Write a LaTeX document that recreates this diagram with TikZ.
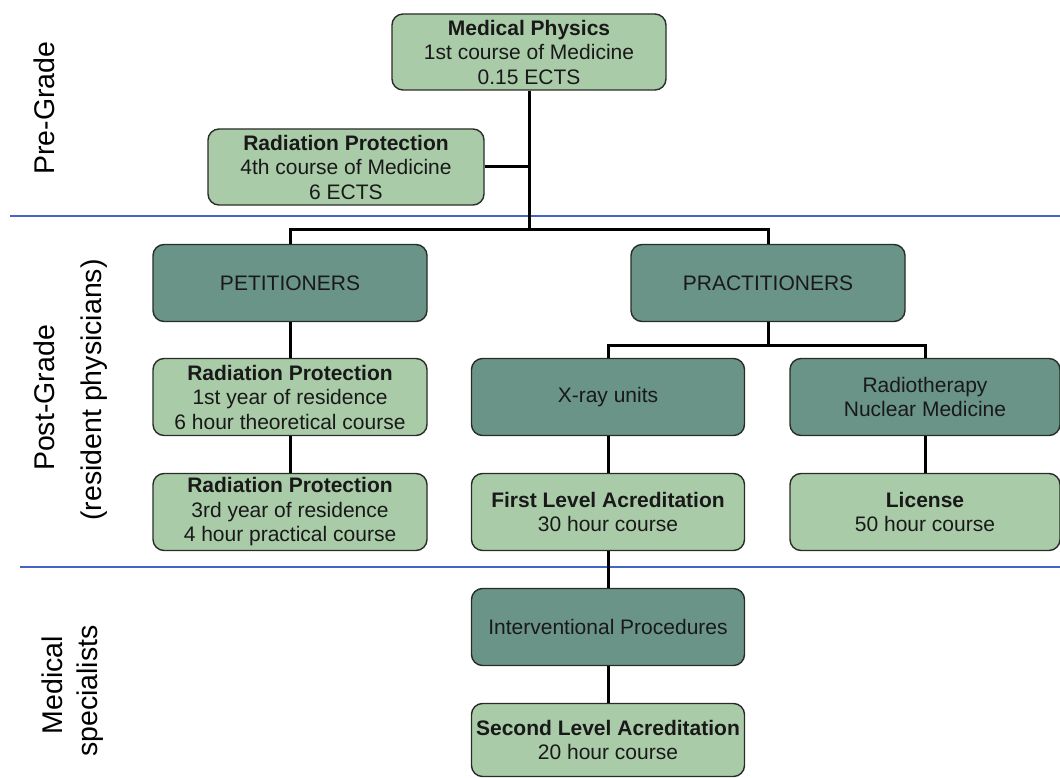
\documentclass[tikz,border=0pt]{standalone}
\usepackage{fontspec}
\setmainfont{Liberation Sans}
\definecolor{lightg}{RGB}{169,203,168}
\definecolor{darkg}{RGB}{106,148,136}
\definecolor{sepblue}{RGB}{70,100,200}
\definecolor{boxline}{RGB}{40,45,40}
\begin{document}
\begin{tikzpicture}[x=1pt,y=-1pt,
  base/.style={draw=boxline,line width=1.4pt,rounded corners=11pt,align=center,
    font=\fontsize{21}{24.5}\selectfont,inner sep=0pt,text=black!90},
  light/.style={base,fill=lightg},
  dark/.style={base,fill=darkg},
  conn/.style={line width=3pt,black},
  sep/.style={line width=1.3pt,sepblue},
  side/.style={rotate=90,font=\fontsize{28.5}{32}\selectfont,align=center,inner sep=0pt}]
\useasboundingbox (0,0) rectangle (1060,778);
% separators
\draw[sep] (10,216) -- (1060,216);
\draw[sep] (20,567) -- (1060,567);
% side labels
\node[side] (lpre) at (44,108) {Pre-Grade};
\node[side] (lpost) at (44,398) {Post-Grade};
\node[side] (lres) at (94,390) {(resident physicians)};
\node[side] (lmed) at (52,685) {Medical};
\node[side] (lspec) at (90,691) {specialists};
% boxes
\node[light,minimum width=274pt,minimum height=76pt] (mp) at (529,52) {\textbf{Medical Physics}\\1st course of Medicine\\0.15 ECTS};
\node[light,minimum width=276pt,minimum height=76pt] (rp0) at (346,167) {\textbf{Radiation Protection}\\4th course of Medicine\\6 ECTS};
\node[dark,minimum width=274pt,minimum height=77pt] (pet) at (290,283) {PETITIONERS};
\node[dark,minimum width=274pt,minimum height=77pt] (pra) at (768,283) {PRACTITIONERS};
\node[light,minimum width=274pt,minimum height=77pt] (rp1) at (290,397) {\textbf{Radiation Protection}\\1st year of residence\\6 hour theoretical course};
\node[light,minimum width=274pt,minimum height=77pt] (rp3) at (290,512) {\textbf{Radiation Protection}\\3rd year of residence\\4 hour practical course};
\node[dark,minimum width=273pt,minimum height=77pt] (xr) at (608,397) {X-ray units};
\node[dark,minimum width=270pt,minimum height=77pt] (rt) at (925,397) {Radiotherapy\\Nuclear Medicine};
\node[light,minimum width=273pt,minimum height=77pt] (fl) at (608,512) {\textbf{First Level Acreditation}\\30 hour course};
\node[light,minimum width=270pt,minimum height=77pt] (lic) at (925,512) {\textbf{License}\\50 hour course};
\node[dark,minimum width=273pt,minimum height=77pt] (ip) at (608,627) {Interventional Procedures};
\node[light,minimum width=273pt,minimum height=73pt] (sl) at (608,740) {\textbf{Second Level Acreditation}\\20 hour course};
% connectors
\coordinate (j1) at (529,230);
\coordinate (j2) at (768,345);
\draw[conn] (mp.south) -- (j1);
\draw[conn] (rp0.east) -- (rp0.east -| mp.south);
\draw[conn] (pet.north) |- (j1) -| (pra.north);
\draw[conn] (pet) -- (rp1);
\draw[conn] (rp1) -- (rp3);
\draw[conn] (pra.south) -- (j2);
\draw[conn] (xr.north) |- (j2) -| (rt.north);
\draw[conn] (xr) -- (fl);
\draw[conn] (rt) -- (lic);
\draw[conn] (fl) -- (ip);
\draw[conn] (ip) -- (sl);
\end{tikzpicture}
\end{document}
